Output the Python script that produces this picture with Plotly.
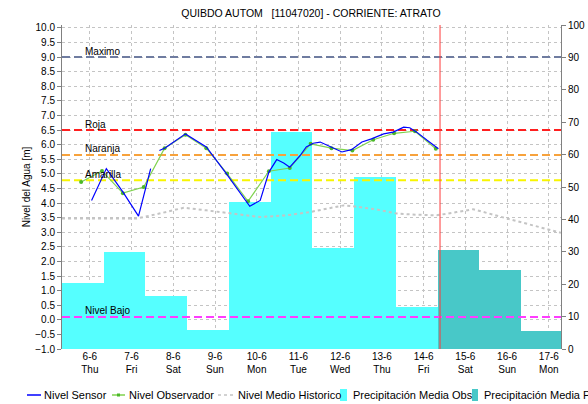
import plotly.graph_objects as go

# --------------------------------------------------------
# Datos
titulo = "QUIBDO AUTOM\u00a0\u00a0\u00a0[11047020] - CORRIENTE: ATRATO"

dias = ["2024-06-06", "2024-06-07", "2024-06-08", "2024-06-09", "2024-06-10", "2024-06-11",
        "2024-06-12", "2024-06-13", "2024-06-14", "2024-06-15", "2024-06-16", "2024-06-17"]
dias_txt = ["6-6<br>Thu", "7-6<br>Fri", "8-6<br>Sat", "9-6<br>Sun", "10-6<br>Mon", "11-6<br>Tue",
            "12-6<br>Wed", "13-6<br>Thu", "14-6<br>Fri", "15-6<br>Sat", "16-6<br>Sun", "17-6<br>Mon"]

# Nivel sensor (None = hueco en la serie)
sensor_t = ["2024-06-06 01:00", "2024-06-06 09:30", "2024-06-06 19:00", "2024-06-07 04:00",
            "2024-06-07 11:00", "2024-06-07 13:30", "2024-06-07 16:00", "2024-06-07 19:00",
            "2024-06-08 07:00", "2024-06-08 19:00", "2024-06-09 06:30", "2024-06-09 14:30",
            "2024-06-09 20:00", "2024-06-10 02:00", "2024-06-10 07:00", "2024-06-10 11:30",
            "2024-06-10 15:30", "2024-06-10 19:00", "2024-06-11 01:00", "2024-06-11 04:30",
            "2024-06-11 08:30", "2024-06-11 12:30", "2024-06-11 19:00", "2024-06-12 01:00",
            "2024-06-12 06:30", "2024-06-12 12:30", "2024-06-12 18:00", "2024-06-13 01:00",
            "2024-06-13 06:30", "2024-06-13 12:30", "2024-06-13 16:00", "2024-06-13 20:00",
            "2024-06-14 02:00", "2024-06-14 08:30"]
sensor_nivel = [4.09, 5.18, 4.38, 3.55,
                5.18, None, 5.80, 5.88,
                6.37, 5.92, 5.01, 4.32,
                3.89, 4.09, 5.06, 5.49,
                5.37, 5.23, 5.63, 5.92,
                6.05, 6.09, 5.92, 5.75,
                5.83, 6.09, 6.20, 6.37,
                6.43, 6.60, 6.58, 6.43,
                6.15, 5.86]

# Nivel observador (lecturas 07:00 y 19:00)
obs_t = ["2024-06-05 19:00", "2024-06-06 07:00", "2024-06-06 19:00", "2024-06-07 07:00",
         "2024-06-07 19:00", "2024-06-08 07:00", "2024-06-08 19:00", "2024-06-09 07:00",
         "2024-06-09 19:00", "2024-06-10 07:00", "2024-06-10 19:00", "2024-06-11 07:00",
         "2024-06-11 19:00", "2024-06-12 07:00", "2024-06-12 19:00", "2024-06-13 07:00",
         "2024-06-13 19:00", "2024-06-14 07:00"]
obs_nivel = [4.72, 5.10, 4.34, 4.55, 5.88, 6.34, 5.88, 5.01, 4.06,
             5.09, 5.20, 6.03, 5.88, 5.80, 6.17, 6.39, 6.46, 5.86]

# Nivel medio historico
hist_t = ["2024-06-05 08:00", "2024-06-06 11:30", "2024-06-07 03:00", "2024-06-07 16:00",
          "2024-06-08 06:00", "2024-06-08 19:00", "2024-06-09 10:30", "2024-06-10 02:00",
          "2024-06-10 17:00", "2024-06-11 06:30", "2024-06-12 02:00", "2024-06-12 07:30",
          "2024-06-12 21:00", "2024-06-13 08:30", "2024-06-13 20:00", "2024-06-14 07:30",
          "2024-06-14 19:00", "2024-06-15 04:30", "2024-06-16 00:00", "2024-06-16 15:00",
          "2024-06-17 07:00"]
hist_nivel = [3.47, 3.47, 3.47, 3.64, 3.84, 3.75, 3.64, 3.52, 3.58, 3.69, 3.92,
              3.89, 3.78, 3.64, 3.60, 3.58, 3.69, 3.79, 3.47, 3.24, 2.98]

# Precipitacion diaria (inicio del dia pluviometrico, mm)
precip_obs_t = ["2024-06-05 08:00", "2024-06-06 08:00", "2024-06-07 08:00", "2024-06-08 08:00",
                "2024-06-09 08:00", "2024-06-10 08:00", "2024-06-11 08:00", "2024-06-12 08:00",
                "2024-06-13 08:00"]
precip_obs = [20.3, 30.0, 16.3, 5.8, 45.5, 67.0, 31.1, 53.2, 12.9]
precip_pron_t = ["2024-06-14 08:00", "2024-06-15 08:00", "2024-06-16 08:00"]
precip_pron = [30.6, 24.4, 5.6]

# Umbrales de alerta
umbral_nombres = ["Maximo", "Roja", "Naranja", "Amarilla", "Nivel Bajo"]
umbral_valores = [9.0, 6.5, 5.65, 4.78, 0.1]
umbral_colores = ["#6f7ca0", "#ff1f1f", "#f7a23c", "#f8f500", "#ff3cff"]

ahora = "2024-06-14 09:25"
x_rango = ["2024-06-05 08:00", "2024-06-17 07:00"]

# Leyenda (texto)
ley_nombres = ["Nivel Sensor", "Nivel Observador", "Nivel Medio Historico",
               "Precipitación Media Obs", "Precipitación Media Pronóstico"]

# --------------------------------------------------------
# Estilos y geometria
W, H = 588, 404
M = dict(l=62, r=27, t=25, b=55)
PW, PH = W - M["l"] - M["r"], H - M["t"] - M["b"]
DIA_MS = 24 * 3600 * 1000
fuente = "Liberation Sans, Arial, sans-serif"

col_sensor = "#0000ff"
col_obs_linea, col_obs_marker = "#7fd24e", "#4cb82a"
col_hist = "#c4c4c4"
col_pobs, col_ppron = "#55ffff", "#48c8c8"


def px_x(p):
    return (p - M["l"]) / PW


def px_y(p):
    return (H - M["b"] - p) / PH


fig = go.Figure()

# Barras de precipitacion en el eje base (derecho) para que queden debajo de las lineas
fig.add_trace(go.Bar(x=precip_obs_t, y=precip_obs, width=DIA_MS, offset=0, yaxis="y",
                     marker=dict(color=col_pobs, line_width=0), name=ley_nombres[3]))
fig.add_trace(go.Bar(x=precip_pron_t, y=precip_pron, width=DIA_MS, offset=0, yaxis="y",
                     marker=dict(color=col_ppron, line_width=0), name=ley_nombres[4]))

# Umbrales
for nombre, valor, color in zip(umbral_nombres, umbral_valores, umbral_colores):
    fig.add_trace(go.Scatter(x=x_rango, y=[valor, valor], mode="lines", yaxis="y2",
                             line=dict(color=color, width=2, dash="8px,4px"), hoverinfo="skip"))
    fig.add_annotation(text=nombre, xref="paper", x=0.042, xanchor="left",
                       yref="y2", y=valor, yanchor="middle", yshift=6, showarrow=False,
                       font=dict(size=10, color="black"))

# Series de nivel
fig.add_trace(go.Scatter(x=hist_t, y=hist_nivel, mode="lines", yaxis="y2",
                         line=dict(color=col_hist, width=2, dash="dot"), name=ley_nombres[2]))
fig.add_trace(go.Scatter(x=obs_t, y=obs_nivel, mode="lines+markers", yaxis="y2",
                         line=dict(color=col_obs_linea, width=1.2),
                         marker=dict(color=col_obs_marker, size=4), name=ley_nombres[1]))
fig.add_trace(go.Scatter(x=sensor_t, y=sensor_nivel, mode="lines", yaxis="y2",
                         line=dict(color=col_sensor, width=1.2), name=ley_nombres[0]))

# Linea del momento actual
fig.add_shape(type="line", xref="x", yref="paper", x0=ahora, x1=ahora, y0=0, y1=1,
              line=dict(color="#ff3b3b", width=1), layer="above")

# --------------------------------------------------------
# Leyenda compacta bajo el grafico (la de plotly no cabe en una fila)
ley_y = px_y(395)
ley_texto_x = [43, 128, 237, 352, 483]
claves = [
    dict(type="line", x0=px_x(27), x1=px_x(41), y0=ley_y, y1=ley_y,
         line=dict(color=col_sensor, width=1.5)),
    dict(type="line", x0=px_x(112), x1=px_x(125), y0=ley_y, y1=ley_y,
         line=dict(color=col_obs_linea, width=1.5)),
    dict(type="rect", x0=px_x(117), x1=px_x(120), y0=px_y(396.5), y1=px_y(393.5),
         fillcolor=col_obs_marker, line_width=0),
    dict(type="line", x0=px_x(218), x1=px_x(233), y0=ley_y, y1=ley_y,
         line=dict(color=col_hist, width=1.5, dash="3px,3px")),
    dict(type="rect", x0=px_x(340), x1=px_x(347), y0=px_y(401), y1=px_y(389),
         fillcolor=col_pobs, line_width=0),
    dict(type="rect", x0=px_x(472), x1=px_x(478), y0=px_y(401), y1=px_y(389),
         fillcolor=col_ppron, line_width=0),
]
for c in claves:
    fig.add_shape(xref="paper", yref="paper", **c)
for nombre, tx in zip(ley_nombres, ley_texto_x):
    fig.add_annotation(text=nombre, xref="paper", yref="paper", x=px_x(tx), y=ley_y,
                       xanchor="left", yanchor="middle", showarrow=False,
                       borderpad=0, font=dict(size=11, color="black"))

fig.update_layout(
    width=W, height=H, showlegend=False,
    paper_bgcolor="white", plot_bgcolor="white",
    font=dict(family=fuente, size=10, color="black"),
    title=dict(text=titulo, x=px_x(W / 2 + 17), xref="paper", xanchor="center",
               y=1 - 13 / H, yref="container", yanchor="middle", font=dict(size=10.5)),
    margin=dict(M, autoexpand=False),
    barmode="overlay", bargap=0,
    xaxis=dict(
        type="date", range=x_rango, tickvals=dias, ticktext=dias_txt, ticks="",
        showgrid=True, gridcolor="#c4c4c4", griddash="dot", gridwidth=1,
        showline=False, zeroline=False,
    ),
    yaxis=dict(
        side="right", range=[0, 100], dtick=10, showgrid=False, zeroline=False,
        showline=True, linecolor="#808080", linewidth=1,
        ticks="outside", ticklen=4, tickcolor="#808080",
    ),
    yaxis2=dict(
        overlaying="y", side="left", range=[-1.0, 10.1], dtick=0.5, tickformat=".1f",
        showgrid=True, gridcolor="#c4c4c4", griddash="dot", gridwidth=1, zeroline=False,
        showline=True, linecolor="#808080", linewidth=1,
        ticks="outside", ticklen=4, tickcolor="#808080",
        title=dict(text="Nivel del Agua [m]", font=dict(size=10), standoff=2),
    ),
)

# sin el margen por defecto del <body>, el grafico ocupa la ventana completa
fig.write_html("out.html", config={"displayModeBar": False},
               post_script="document.body.style.margin = '0';")
